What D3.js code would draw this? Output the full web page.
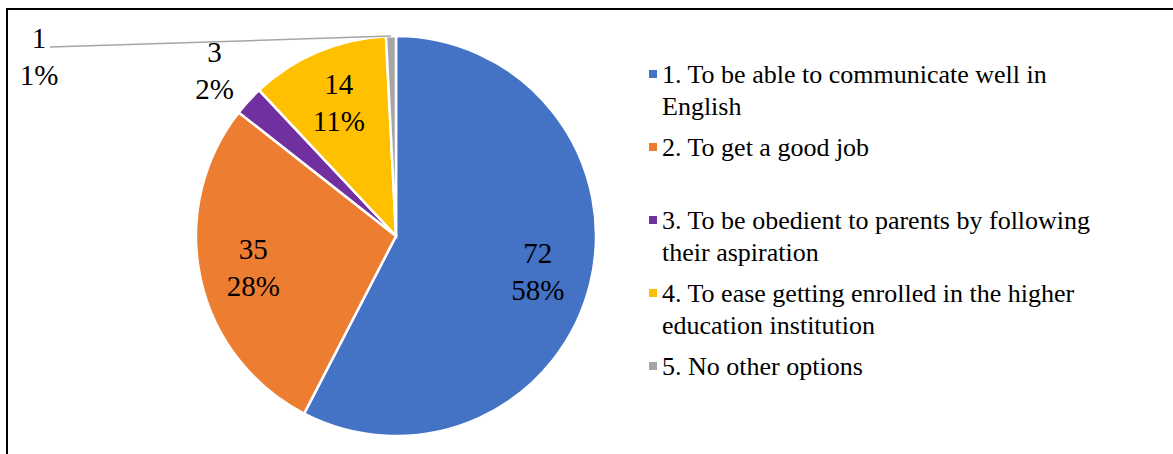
<!DOCTYPE html>
<html>
<head>
<meta charset="utf-8">
<script src="https://cdn.jsdelivr.net/npm/d3@7"></script>
<style>
  body { margin: 0; background: #fff; }
  svg { display: block; }
</style>
</head>
<body>
<svg id="chart"></svg>
<script>
// survey answers
var categories = [
  "1. To be able to communicate well in English",
  "2. To get a good job",
  "3. To be obedient to parents by following their aspiration",
  "4. To ease getting enrolled in the higher education institution",
  "5. No other options"
]
var counts = [72, 35, 3, 14, 1]
var colors = ["#4472C4", "#ED7D31", "#7030A0", "#FFC000", "#A5A5A5"]

var FONT = "Times New Roman, Liberation Serif, DejaVu Serif, serif"

var dimensions = {
  width: 1173,
  height: 454,
  cx: 396,
  cy: 236,
  radius: 200
}

var svg = d3.select("#chart")
  .attr("width", dimensions.width)
  .attr("height", dimensions.height)
  .style("font-family", FONT)

// frame (only top and left edges show in the picture)
svg.append("rect")
  .attr("x", 7).attr("y", 9)
  .attr("width", 1200).attr("height", 500)
  .attr("fill", "none")
  .attr("stroke", "#000")
  .attr("stroke-width", 2)

var data = categories.map((c, i) => ({ name: c, value: counts[i], color: colors[i] }))
var total = d3.sum(counts)

var pie = d3.pie().sort(null).value(d => d.value)
var arcs = pie(data)

var arc = d3.arc().innerRadius(0).outerRadius(dimensions.radius)
var labelArc = d3.arc().innerRadius(dimensions.radius * 0.73).outerRadius(dimensions.radius * 0.73)
var outerArc = d3.arc().innerRadius(dimensions.radius * 1.23).outerRadius(dimensions.radius * 1.23)
var edgeArc = d3.arc().innerRadius(dimensions.radius).outerRadius(dimensions.radius)

var g = svg.append("g")
  .attr("transform", `translate(${dimensions.cx},${dimensions.cy})`)

g.selectAll("path")
  .data(arcs)
  .enter()
  .append("path")
  .attr("d", arc)
  .attr("fill", d => d.data.color)
  .attr("stroke", "#fff")
  .attr("stroke-width", 2.5)

// label placement: big slices inside, small ones outside, last one dragged away
function labelPos(d, i) {
  if (i == 4) return [39 - dimensions.cx, 56 - dimensions.cy]
  if (d.data.value / total < 0.05) return outerArc.centroid(d)
  return labelArc.centroid(d)
}

// leader line for the dragged label
var grey = arcs[4]
var gp = labelPos(grey, 4)
var ge = edgeArc.centroid(grey)
g.append("line")
  .attr("x1", gp[0] + 11).attr("y1", gp[1] - 9)
  .attr("x2", ge[0]).attr("y2", ge[1])
  .attr("stroke", "#A6A6A6")
  .attr("stroke-width", 1.5)

var labels = g.selectAll(".lbl")
  .data(arcs)
  .enter()
  .append("text")
  .attr("class", "lbl")
  .attr("text-anchor", "middle")
  .style("font-family", FONT)
  .style("font-size", "29px")
  .attr("transform", (d, i) => `translate(${labelPos(d, i)})`)

labels.append("tspan")
  .attr("x", 0).attr("y", -8)
  .text(d => d.data.value)
labels.append("tspan")
  .attr("x", 0).attr("y", 29)
  .text(d => Math.round(d.data.value / total * 100) + "%")

// legend
var legend = svg.append("g").attr("transform", "translate(649,0)")
var maxWidth = 440
data.forEach(function (d, i) {
  var base = 83 + i * 73
  legend.append("rect")
    .attr("x", 0).attr("y", base - 13)
    .attr("width", 8).attr("height", 8)
    .attr("fill", d.color)
  var t = legend.append("text")
    .attr("x", 13).attr("y", base)
    .style("font-family", FONT)
    .style("font-size", "26px")
  var words = d.name.split(" ")
  var line = []
  var tspan = t.append("tspan").attr("x", 13).attr("y", base)
  var lineNo = 0
  words.forEach(function (w) {
    line.push(w)
    tspan.text(line.join(" "))
    if (tspan.node().getComputedTextLength() > maxWidth && line.length > 1) {
      line.pop()
      tspan.text(line.join(" "))
      line = [w]
      lineNo++
      tspan = t.append("tspan").attr("x", 13).attr("y", base + lineNo * 32).text(w)
    }
  })
})
</script>
</body>
</html>
